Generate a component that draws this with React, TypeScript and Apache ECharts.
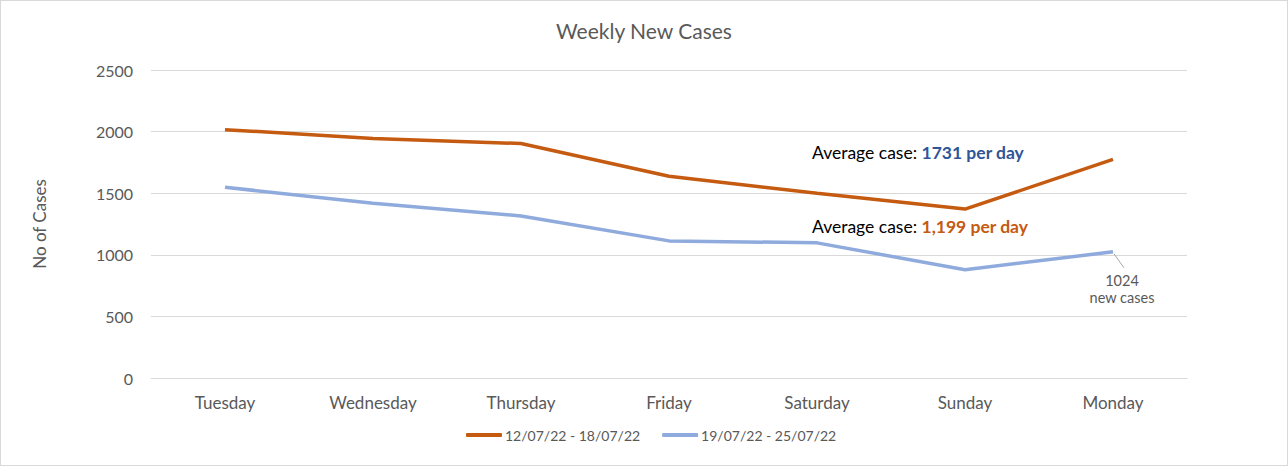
import React, { useEffect, useRef } from "react";
import * as echarts from "echarts";

const days = ["Tuesday", "Wednesday", "Thursday", "Friday", "Saturday", "Sunday", "Monday"];
const week1Name = "12/07/22 - 18/07/22";
const week2Name = "19/07/22 - 25/07/22";
const week1 = [2016, 1944, 1903, 1637, 1500, 1371, 1774];
const week2 = [1548, 1419, 1315, 1113, 1097, 879, 1024];
const yTicks = { min: 0, max: 2500, interval: 500 };

const ORANGE = "#C55A11";
const BLUE = "#8FAADC";
const DARKBLUE = "#2F5597";
const TEXT = "#595959";
const FONT = "Lato, 'Open Sans', sans-serif";

export default function App() {
  const ref = useRef<HTMLDivElement>(null);
  useEffect(() => {
    const chart = echarts.init(ref.current!, null, { renderer: "svg" });
    const lastIdx = week2.length - 1;
    chart.setOption({
      animation: false,
      textStyle: { fontFamily: FONT },
      title: {
        text: "Weekly New Cases",
        left: "center",
        top: 14,
        textStyle: { fontFamily: FONT, fontSize: 21, fontWeight: "normal", color: TEXT },
      },
      grid: { left: 150, right: 100, top: 69, bottom: 87 },
      xAxis: {
        type: "category",
        data: days,
        boundaryGap: true,
        axisLine: { lineStyle: { color: "#d9d9d9" } },
        axisTick: { show: false },
        axisLabel: { color: TEXT, fontSize: 17, margin: 16, fontFamily: FONT },
      },
      yAxis: {
        type: "value",
        min: yTicks.min,
        max: yTicks.max,
        interval: yTicks.interval,
        name: "No of Cases",
        nameLocation: "middle",
        nameGap: 103,
        nameTextStyle: { color: TEXT, fontSize: 17, fontFamily: FONT },
        axisLine: { show: false },
        axisTick: { show: false },
        axisLabel: {
          color: TEXT,
          fontSize: 16,
          margin: 18,
          fontFamily: FONT,
          formatter: (v: number) => String(v),
        },
        splitLine: { lineStyle: { color: "#d9d9d9", width: 1 } },
      },
      legend: {
        bottom: 18,
        left: 460,
        itemWidth: 36,
        itemHeight: 4,
        itemGap: 22,
        icon: "roundRect",
        textStyle: { color: TEXT, fontSize: 14, fontFamily: FONT, padding: [0, 0, 0, -2] },
        data: [week1Name, week2Name],
      },
      series: [
        {
          name: week1Name,
          type: "line",
          data: week1,
          symbol: "none",
          lineStyle: { color: ORANGE, width: 3.5 },
          itemStyle: { color: ORANGE },
        },
        {
          name: week2Name,
          type: "line",
          data: week2.map((v, i) =>
            i === lastIdx
              ? {
                  value: v,
                  label: {
                    show: true,
                    position: "bottom",
                    formatter: `${v}\nnew cases`,
                    color: TEXT,
                    fontSize: 14.5,
                    lineHeight: 17,
                    fontFamily: FONT,
                  },
                }
              : v
          ),
          showSymbol: true,
          symbol: "circle",
          symbolSize: 0,
          label: { show: false },
          labelLayout: { dx: 9, dy: 15 },
          lineStyle: { color: BLUE, width: 3.5 },
          itemStyle: { color: BLUE },
        },
      ],
      graphic: [
        {
          type: "text",
          left: 811,
          top: 142,
          style: {
            text: "{a|Average case: }{b|1731 per day}",
            rich: {
              a: { fontSize: 17.5, fill: "#000", fontFamily: FONT },
              b: { fontSize: 17.5, fill: DARKBLUE, fontWeight: "bold", fontFamily: FONT },
            },
          },
        },
        {
          type: "text",
          left: 811,
          top: 216,
          style: {
            text: "{a|Average case: }{b|1,199 per day}",
            rich: {
              a: { fontSize: 17.5, fill: "#000", fontFamily: FONT },
              b: { fontSize: 17.5, fill: ORANGE, fontWeight: "bold", fontFamily: FONT },
            },
          },
        },
      ],
    });
    const p = chart.convertToPixel({ seriesIndex: 1 }, [lastIdx, week2[lastIdx]]) as number[];
    if (p) {
      chart.setOption({
        graphic: [
          {
            id: "leader",
            type: "line",
            shape: { x1: p[0] + 1, y1: p[1] + 2, x2: p[0] + 11, y2: p[1] + 16 },
            style: { stroke: "#a6a6a6", lineWidth: 1 },
            z: 10,
          },
        ],
      });
    }
    return () => chart.dispose();
  }, []);
  return (
    <div
      ref={ref}
      style={{
        position: "absolute",
        left: 0,
        top: 0,
        width: 1286,
        height: 464,
        border: "1px solid #d9d9d9",
        background: "#fff",
      }}
    />
  );
}
